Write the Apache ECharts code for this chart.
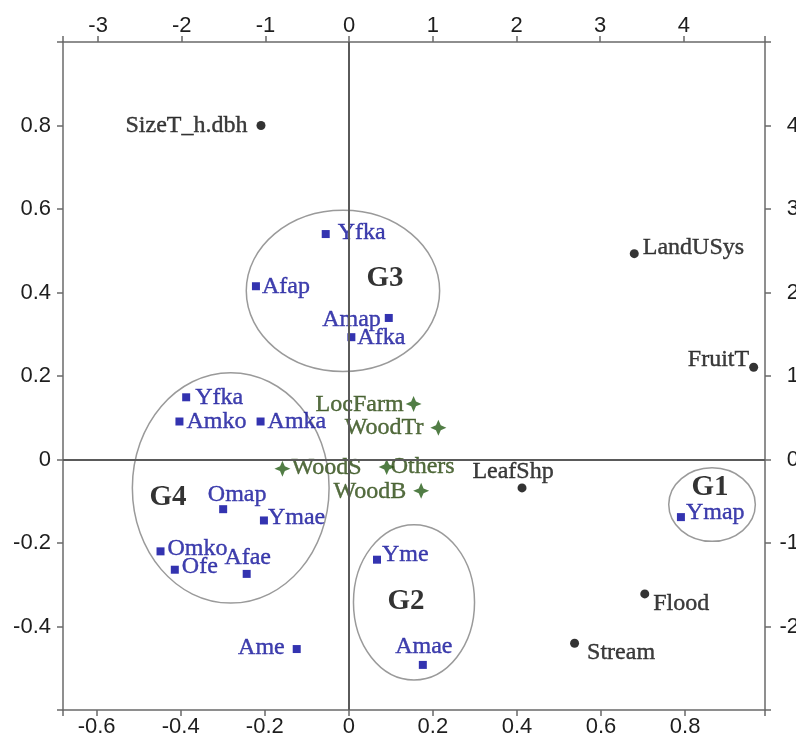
<!DOCTYPE html>
<html>
<head>
<meta charset="utf-8">
<script src="https://cdn.jsdelivr.net/npm/echarts@6/dist/echarts.min.js"></script>
<style>
html,body{margin:0;padding:0;background:#fff;}
#chart{width:796px;height:738px;}
</style>
</head>
<body>
<div id="chart"></div>
<script>
// ---- data ----
const siteNames = ['Yfka','Afap','Amap','Afka','Yfka','Amko','Amka','Omap','Ymae','Omko','Ofe','Afae','Ame','Yme','Amae','Ymap'];
const siteX = [-0.055,-0.221,0.095,0.006,-0.387,-0.403,-0.210,-0.299,-0.202,-0.448,-0.414,-0.243,-0.124,0.067,0.176,0.790];
const siteY = [0.540,0.415,0.339,0.293,0.149,0.091,0.091,-0.119,-0.146,-0.220,-0.264,-0.274,-0.454,-0.240,-0.492,-0.138];

const varNames = ['SizeT_h.dbh','LandUSys','FruitT','LeafShp','Flood','Stream'];
const varX = [-0.209,0.679,0.963,0.412,0.704,0.537];
const varY = [0.800,0.493,0.221,-0.068,-0.322,-0.440];

const woodNames = ['LocFarm','WoodTr','WoodS','Others','WoodB'];
const woodX = [0.154,0.213,-0.158,0.090,0.172];
const woodY = [0.133,0.076,-0.022,-0.018,-0.075];

const groupNames = ['G1','G2','G3','G4'];
const groupX = [0.859,0.136,0.086,-0.430];
const groupY = [-0.068,-0.340,0.433,-0.091];
// ellipse centre and radii (data units)
const ellX = [0.864,0.155,-0.014,-0.281];
const ellY = [-0.108,-0.342,0.404,-0.068];
const ellRX = [0.103,0.144,0.230,0.234];
const ellRY = [0.088,0.186,0.193,0.276];

// axis ranges and tick labels
const bottomRange = [-0.68, 0.99];
const topRange = [-3.42, 4.97];
const leftRange = [-0.6, 1.0];
const rightRange = [-3, 5];
const bottomTicks = [-0.6,-0.4,-0.2,0,0.2,0.4,0.6,0.8];
const topTicks = [-3,-2,-1,0,1,2,3,4];
const leftTicks = [-0.4,-0.2,0,0.2,0.4,0.6,0.8];
const rightTicks = [-2,-1,0,1,2,3,4];

// ---- label placement (style) ----
const siteLabel = [
  ['right',8,0,-1],['right',2,0,0],['left',4,0,2],['right',2,0,1],
  ['right',5,0,0],['right',3,0,0],['right',3,0,0],['top',0,14,2],
  ['right',0,0,-3],['right',3,0,-3],['right',3,0,-3],['top',0,1,0],
  ['left',8,0,-1],['right',1,0,-5],['top',2,1,0],['right',1,0,-4]
];
const varLabel = [
  ['left',9,0,0],['right',4,0,-6],['left',0,0,-8],['top',0,-9,0],['right',4,0,10],['right',8,0,10]
];
const woodLabel = [
  ['left',2,0,1],['left',7,0,0],['right',1,0,-1],['right',-4,0,0],['left',7,0,1]
];

const serif = '"Liberation Serif","Times New Roman",serif';
const sans = '"Liberation Sans",Arial,Helvetica,sans-serif';

function mkData(names, xs, ys, labs) {
  return names.map((n, i) => ({
    name: n,
    value: [xs[i], ys[i]],
    label: { position: labs[i][0], distance: labs[i][1], offset: [labs[i][2], labs[i][3]] }
  }));
}

function mkAxis(pos, range, ticks, labelExtra) {
  return {
    type: 'value',
    position: pos,
    min: range[0],
    max: range[1],
    splitLine: { show: false },
    axisLine: { show: true, onZero: false, lineStyle: { color: '#6a6a6a', width: 1.5 } },
    axisTick: { show: true, inside: false, length: 6, customValues: [range[0]].concat(ticks, [range[1]]),
      lineStyle: { color: '#6a6a6a', width: 1.5 } },
    axisLabel: Object.assign({ color: '#1e1e1e', fontFamily: sans, fontSize: 22, customValues: ticks }, labelExtra)
  };
}

const chart = echarts.init(document.getElementById('chart'), null, { renderer: 'canvas' });
chart.setOption({
  animation: false,
  backgroundColor: '#fff',
  grid: { left: 63, right: 31, top: 42, bottom: 28, containLabel: false, outerBoundsMode: 'none' },
  xAxis: [
    mkAxis('bottom', bottomRange, bottomTicks, { margin: 6 }),
    mkAxis('top', topRange, topTicks, { margin: 5 })
  ],
  yAxis: [
    mkAxis('left', leftRange, leftTicks, { margin: 12 }),
    mkAxis('right', rightRange, rightTicks, { margin: 34, align: 'right' })
  ],
  series: [
    {
      type: 'custom',
      xAxisIndex: 0, yAxisIndex: 0,
      silent: true,
      z: 1,
      data: ellX.map((x, i) => [x, ellY[i], ellRX[i], ellRY[i]]),
      renderItem: function (params, api) {
        const c = api.coord([api.value(0), api.value(1)]);
        const s = api.size([api.value(2), api.value(3)]);
        return {
          type: 'ellipse',
          shape: { cx: c[0], cy: c[1], rx: s[0], ry: s[1] },
          style: { fill: null, stroke: '#9a9a9a', lineWidth: 1.5 }
        };
      }
    },
    {
      type: 'scatter',
      xAxisIndex: 0, yAxisIndex: 0,
      silent: true,
      symbolSize: 0,
      z: 2,
      data: [],
      markLine: {
        silent: true,
        symbol: ['none', 'none'],
        label: { show: false },
        lineStyle: { color: '#5a5a5a', width: 2, type: 'solid' },
        data: [{ xAxis: 0 }, { yAxis: 0 }]
      }
    },
    {
      name: 'groups',
      type: 'scatter',
      xAxisIndex: 0, yAxisIndex: 0,
      symbolSize: 0,
      z: 3,
      data: groupNames.map((n, i) => ({ name: n, value: [groupX[i], groupY[i]] })),
      label: { show: true, position: 'inside', formatter: '{b}', color: '#000',
        fontFamily: serif, fontWeight: 'bold', fontSize: 29 }
    },
    {
      name: 'sites',
      type: 'scatter',
      xAxisIndex: 0, yAxisIndex: 0,
      symbol: 'rect',
      symbolSize: 8,
      z: 4,
      itemStyle: { color: '#00009c' },
      data: mkData(siteNames, siteX, siteY, siteLabel),
      label: { show: true, formatter: '{b}', color: '#10109a', fontFamily: serif, fontSize: 24,
        textBorderColor: '#10109a', textBorderWidth: 0.4 }
    },
    {
      name: 'variables',
      type: 'scatter',
      xAxisIndex: 0, yAxisIndex: 0,
      symbol: 'circle',
      symbolSize: 9,
      z: 4,
      itemStyle: { color: '#000' },
      data: mkData(varNames, varX, varY, varLabel),
      label: { show: true, formatter: '{b}', color: '#0c0c0c', fontFamily: serif, fontSize: 24,
        textBorderColor: '#0c0c0c', textBorderWidth: 0.4 }
    },
    {
      name: 'wood',
      type: 'scatter',
      xAxisIndex: 0, yAxisIndex: 0,
      symbol: 'path://M0,-10 L3,-3 L10,0 L3,3 L0,10 L-3,3 L-10,0 L-3,-3 Z',
      symbolSize: 16,
      z: 4,
      itemStyle: { color: '#255c16' },
      data: mkData(woodNames, woodX, woodY, woodLabel),
      label: { show: true, formatter: '{b}', color: '#2a4810', fontFamily: serif, fontSize: 24,
        textBorderColor: '#2a4810', textBorderWidth: 0.4 }
    }
  ]
});
</script>
</body>
</html>
